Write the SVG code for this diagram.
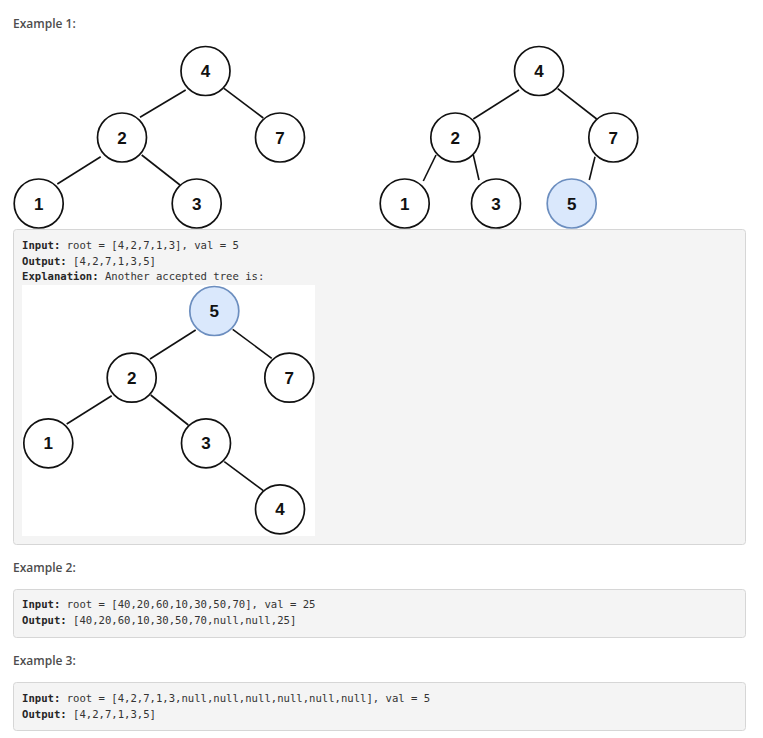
<svg xmlns="http://www.w3.org/2000/svg" width="763" height="738" viewBox="0 0 763 738">
<style>
.h{font-family:"Open Sans","Liberation Sans",sans-serif;font-size:12px;font-weight:600;fill:#4d4d4d}
.box{fill:#f4f4f4;stroke:#d6d6d6;stroke-width:1}
.code{font-family:"DejaVu Sans Mono","Liberation Mono",monospace;font-size:10.6px;fill:#333}
.code .b{font-weight:bold;fill:#262626}
.n circle{fill:#fff;stroke:#111;stroke-width:1.7}
.n.blue circle{fill:#dae8fc;stroke:#6c8ebf}
.n text{font-family:"Liberation Sans",Arial,sans-serif;font-size:17px;font-weight:bold;fill:#111;text-anchor:middle}
.e line{stroke:#111;stroke-width:1.6}
</style>
<rect width="763" height="738" fill="#fff"/>
<text class="h" x="13" y="28">Example 1:</text>
<!-- Tree 1 -->
<g id="t1-edges" class="e">
<line x1="185.7" y1="90" x2="140" y2="117.3"/>
<line x1="224" y1="88.3" x2="263.3" y2="118"/>
<line x1="100.7" y1="156.7" x2="57.3" y2="184"/>
<line x1="141.7" y1="155" x2="180" y2="185"/>
</g>
<g id="t1-n4" class="n"><circle cx="205.5" cy="71" r="24.5"/><text x="205.5" y="77">4</text></g>
<g id="t1-n2" class="n"><circle cx="122" cy="137.5" r="24.5"/><text x="122" y="143.5">2</text></g>
<g id="t1-n7" class="n"><circle cx="280" cy="137.5" r="24.5"/><text x="280" y="143.5">7</text></g>
<g id="t1-n1" class="n"><circle cx="38.7" cy="203.5" r="24.5"/><text x="38.7" y="209.5">1</text></g>
<g id="t1-n3" class="n"><circle cx="196.7" cy="203.5" r="24.5"/><text x="196.7" y="209.5">3</text></g>
<!-- Tree 2 -->
<g id="t2-edges" class="e">
<line x1="519" y1="90" x2="473.3" y2="119"/>
<line x1="557.7" y1="88.7" x2="596.7" y2="119"/>
<line x1="436" y1="155" x2="423.3" y2="181"/>
<line x1="473.3" y1="155" x2="479" y2="180"/>
<line x1="595" y1="156.7" x2="589.3" y2="180"/>
</g>
<g id="t2-n4" class="n"><circle cx="539" cy="71" r="24.5"/><text x="539" y="77">4</text></g>
<g id="t2-n2" class="n"><circle cx="455.3" cy="137.5" r="24.5"/><text x="455.3" y="143.5">2</text></g>
<g id="t2-n7" class="n"><circle cx="613.3" cy="137.5" r="24.5"/><text x="613.3" y="143.5">7</text></g>
<g id="t2-n1" class="n"><circle cx="404.7" cy="203.5" r="24.5"/><text x="404.7" y="209.5">1</text></g>
<g id="t2-n3" class="n"><circle cx="496" cy="203.5" r="24.5"/><text x="496" y="209.5">3</text></g>
<g id="t2-n5" class="n blue"><circle cx="571.7" cy="203.5" r="24.5"/><text x="571.7" y="209.5">5</text></g>
<!-- Box 1 -->
<rect class="box" x="13.5" y="229.5" width="732" height="315" rx="3"/>
<text class="code" x="22" y="249"><tspan class="b">Input:</tspan> root = [4,2,7,1,3], val = 5</text>
<text class="code" x="22" y="264.5"><tspan class="b">Output:</tspan> [4,2,7,1,3,5]</text>
<text class="code" x="22" y="280"><tspan class="b">Explanation:</tspan> Another accepted tree is:</text>
<rect x="22" y="285" width="293" height="251" fill="#fff"/>
<!-- Tree 3 -->
<g id="t3-edges" class="e">
<line x1="195.7" y1="330" x2="150" y2="359"/>
<line x1="232.7" y1="329.3" x2="271.7" y2="358.3"/>
<line x1="111.7" y1="395.7" x2="66.7" y2="424"/>
<line x1="150.7" y1="395" x2="188.3" y2="425"/>
<line x1="224.3" y1="461.7" x2="263.3" y2="490.7"/>
</g>
<g id="t3-n5" class="n blue"><circle cx="214.3" cy="311" r="24.5"/><text x="214.3" y="317">5</text></g>
<g id="t3-n2" class="n"><circle cx="131.7" cy="377.7" r="24.5"/><text x="131.7" y="383.7">2</text></g>
<g id="t3-n7" class="n"><circle cx="289.3" cy="377.7" r="24.5"/><text x="289.3" y="383.7">7</text></g>
<g id="t3-n1" class="n"><circle cx="48.3" cy="443.3" r="24.5"/><text x="48.3" y="449.3">1</text></g>
<g id="t3-n3" class="n"><circle cx="206" cy="443.3" r="24.5"/><text x="206" y="449.3">3</text></g>
<g id="t3-n4" class="n"><circle cx="280" cy="509.3" r="24.5"/><text x="280" y="515.3">4</text></g>
<!-- Example 2 -->
<text class="h" x="13" y="572">Example 2:</text>
<rect class="box" x="13.5" y="589.5" width="732" height="48" rx="3"/>
<text class="code" x="22" y="608"><tspan class="b">Input:</tspan> root = [40,20,60,10,30,50,70], val = 25</text>
<text class="code" x="22" y="624"><tspan class="b">Output:</tspan> [40,20,60,10,30,50,70,null,null,25]</text>
<!-- Example 3 -->
<text class="h" x="13" y="665">Example 3:</text>
<rect class="box" x="13.5" y="682.5" width="732" height="48" rx="3"/>
<text class="code" x="22" y="702"><tspan class="b">Input:</tspan> root = [4,2,7,1,3,null,null,null,null,null,null], val = 5</text>
<text class="code" x="22" y="717.5"><tspan class="b">Output:</tspan> [4,2,7,1,3,5]</text>
</svg>
